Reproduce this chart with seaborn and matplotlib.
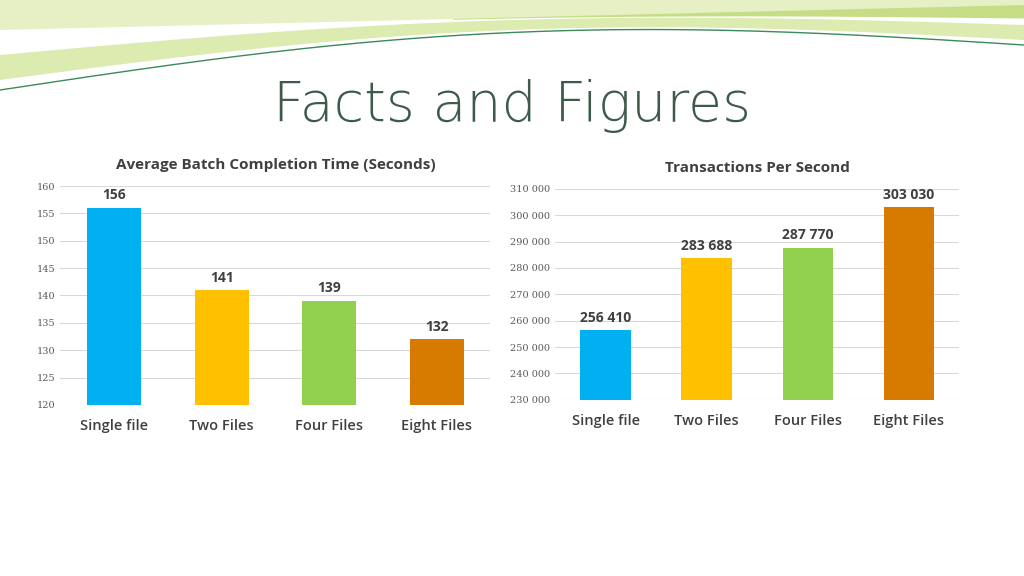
import matplotlib
matplotlib.use("Agg")
import matplotlib.pyplot as plt
import seaborn as sns
import pandas as pd
import numpy as np

categories = ["Single file", "Two Files", "Four Files", "Eight Files"]
batch_time = [156, 141, 139, 132]
tps = [256410, 283688, 287770, 303030]
bar_colors = ["#00B0F0", "#FFC000", "#92D050", "#D67B00"]

fig = plt.figure(figsize=(10.24, 5.76), dpi=100)
fig.patch.set_facecolor("white")

# decorative green swoosh at top
deco = fig.add_axes([0, 0, 1, 1], zorder=-1)
deco.set_xlim(0, 1024)
deco.set_ylim(576, 0)
deco.axis("off")
xs = np.linspace(0, 1024, 200)
t = xs / 1024
deco.fill_between(xs, 0, 80 - 40 * t - 30 * np.sin(np.pi * t), color="#dcebb0", lw=0)
deco.fill_between(xs, 0, 55 - 30 * t - 20 * np.sin(np.pi * t), color="white", lw=0)
deco.fill_between(xs[xs > 450], 0, (48 - 20 * t - 10 * np.sin(np.pi * t))[xs > 450] - 10,
                  color="#c5de86", lw=0)
deco.fill_between(xs, 0, 30 - 25 * t, color="#e6f0c4", lw=0)
deco.plot(xs, 90 - 45 * t - 35 * np.sin(np.pi * t), color="#3a8a5a", lw=1)

fig.text(0.5, 0.815, "Facts and Figures", ha="center", va="center",
         fontsize=40, color="#3e5a4a", family="DejaVu Sans", fontweight="light")


def draw(rect, values, title, ylim, step, fmt):
    ax = fig.add_axes(rect)
    df = pd.DataFrame({"cat": categories, "val": values})
    sns.barplot(data=df, x="cat", y="val", hue="cat", palette=bar_colors,
                saturation=1, width=0.5, legend=False, ax=ax, zorder=2)
    ax.set_ylim(*ylim)
    ax.set_yticks(np.arange(ylim[0], ylim[1] + 1, step))
    ax.set_yticklabels([fmt(v) for v in ax.get_yticks()], fontsize=7,
                       color="#595959", family="DejaVu Serif")
    ax.grid(axis="y", color="#d9d9d9", lw=0.8, zorder=0)
    for s in ax.spines.values():
        s.set_visible(False)
    ax.tick_params(length=0)
    ax.tick_params(axis="x", pad=10)
    ax.set_xlabel("")
    ax.set_ylabel("")
    for lbl in ax.get_xticklabels():
        lbl.set_fontsize(10.5)
        lbl.set_color("#404040")
        lbl.set_fontweight("semibold")
        lbl.set_family("Open Sans")
    rng = ylim[1] - ylim[0]
    for i, v in enumerate(values):
        ax.text(i, v + rng * 0.025, fmt(v), ha="center", va="bottom",
                fontsize=10, fontweight="bold", color="#404040", family="Open Sans")
    ax.set_title(title, fontsize=11, fontweight="bold", color="#404040",
                 family="Open Sans", pad=12)
    return ax


draw([0.059, 0.297, 0.42, 0.38], batch_time,
     "Average Batch Completion Time (Seconds)", (120, 160), 5, lambda v: f"{int(v)}")
draw([0.542, 0.306, 0.395, 0.366], tps, "Transactions Per Second",
     (230000, 310000), 10000, lambda v: f"{int(v):,}".replace(",", " "))

fig.savefig("out.png", dpi=100)
